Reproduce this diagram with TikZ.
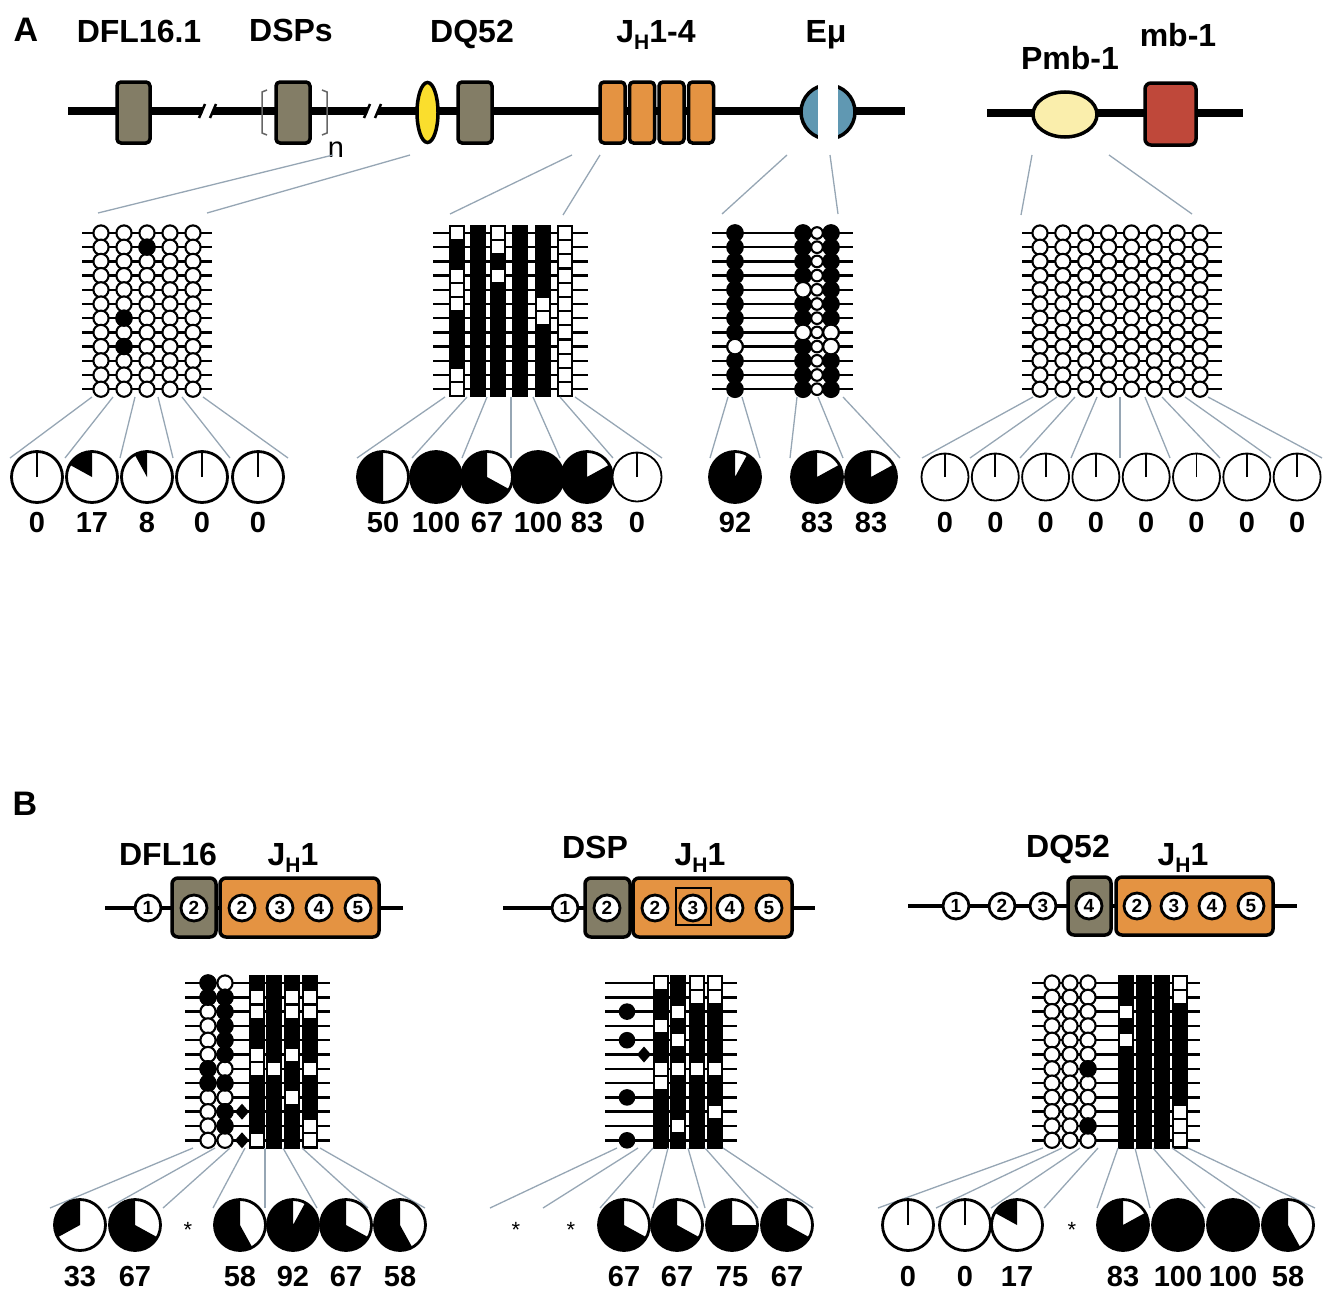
\documentclass[tikz,border=0pt]{standalone}
\usepackage{fontspec}
\setmainfont{Liberation Sans}
\definecolor{dgene}{RGB}{131,125,102}
\definecolor{jgene}{RGB}{228,147,66}
\definecolor{dqel}{RGB}{250,222,45}
\definecolor{emu}{RGB}{96,152,178}
\definecolor{pmb}{RGB}{250,238,172}
\definecolor{mbone}{RGB}{191,72,58}
\definecolor{fangray}{RGB}{150,166,180}

\tikzset{
  dna/.style={line width=8pt},
  thin dna/.style={line width=4pt},
  exon/.style={draw, line width=3.5pt, rounded corners=4pt},
  fan/.style={draw=fangray, line width=1.3pt},
  cpgline/.style={line width=2.5pt},
  lollipop/.style={draw, line width=2.1pt, fill=white},
  cell/.style={draw, line width=2.2pt},
  lbl/.style={font=\fontsize{32}{34}\selectfont\bfseries, inner sep=0pt, anchor=base},
  pct/.style={font=\fontsize{29}{30}\selectfont\bfseries, inner sep=0pt, anchor=base},
  star/.style={font=\fontsize{22}{22}\selectfont, inner sep=0pt, anchor=base},
  site/.style={circle, draw, line width=2.8pt, fill=white, minimum size=26pt, inner sep=0pt,
    font=\fontsize{19}{19}\selectfont\bfseries},
}

% pie of percent methylated: [line width]{x}{y}{percent}{radius}
\newcommand{\mpie}[5][2.8pt]{%
  \fill[white] (#2,#3) circle[radius=#5pt];
  \ifnum#4=100 \fill (#2,#3) circle[radius=#5pt];\else
  \ifnum#4>0 \fill (#2,#3) -- ++(90:#5pt) arc[start angle=90, delta angle=3.6*#4, radius=#5pt] -- cycle;\else
  \draw[line width=#1] (#2,#3) -- ++(90:#5pt);\fi\fi
  \draw[line width=#1] (#2,#3) circle[radius=#5pt];}
\newcommand{\JH}[1]{J\raisebox{-7pt}{\fontsize{21}{21}\selectfont H}#1}

\begin{document}
\begin{tikzpicture}[x=1pt,y=-1pt]
\useasboundingbox (0,0) rectangle (1327,1290);

% ---------------- panel A: locus
\node[lbl, font=\fontsize{34}{34}\selectfont\bfseries] (labA) at (26,42) {A};
\node[lbl] (tDFL) at (139,43) {DFL16.1};
\node[lbl] (tDSP) at (291,42) {DSPs};
\node[lbl] (tDQ) at (472,43) {DQ52};
\node[lbl] (tJH) at (656,43) {\JH{1-4}};
\node[lbl] (tEmu) at (826,43) {Eμ};
\node[lbl] (tPmb) at (1070,70) {Pmb-1};
\node[lbl] (tmb) at (1178,47) {mb-1};

\draw[dna] (68,111) -- (905,111);
% breaks
\fill[white] (200,121) -- (206,101) -- (216,101) -- (210,121) -- cycle;
\draw[line width=2.5pt] (199,118) -- (205,104);
\draw[line width=2.5pt] (210,118) -- (216,104);
\fill[white] (365,121) -- (371,101) -- (381,101) -- (375,121) -- cycle;
\draw[line width=2.5pt] (364,118) -- (370,104);
\draw[line width=2.5pt] (375,118) -- (381,104);

\draw[exon, fill=dgene] (117,82) rectangle (150,143);
\draw[exon, fill=dgene] (276,82) rectangle (310,143);
\draw[line width=1.5pt, draw=gray!80!black] (267,90) -- (262,92) -- (262,133) -- (267,135);
\draw[line width=1.5pt, draw=gray!80!black] (322,90) -- (327,92) -- (327,133) -- (322,135);
\node[font=\fontsize{29}{29}\selectfont, inner sep=0pt] (tn) at (336,150) {n};
\draw[line width=3.5pt, fill=dqel] (427.5,112.5) ellipse[x radius=10.5pt, y radius=30pt];
\draw[exon, fill=dgene] (458,82) rectangle (492,143);
\foreach \x in {600,629.5,659,688.5}
  \draw[exon, fill=jgene] (\x,82) rectangle ++(25,61);
\draw[line width=3.5pt, fill=emu] (828,112) circle[radius=27pt];
\fill[white] (818,80) rectangle (838,146);

\draw[dna] (987,113) -- (1243,113);
\draw[line width=3.5pt, fill=pmb] (1065,114.5) ellipse[x radius=32pt, y radius=22.5pt];
\draw[exon, rounded corners=6pt, fill=mbone] (1145,83) rectangle (1196,145);

% locus to grids
\draw[fan] (333,155) -- (98,213);
\draw[fan] (410,155) -- (207,213);
\draw[fan] (572,155) -- (450,214);
\draw[fan] (600,155) -- (563,215);
\draw[fan] (787,155) -- (722,214);
\draw[fan] (830,155) -- (838,214);
\draw[fan] (1032,155) -- (1021,215);
\draw[fan] (1109,155) -- (1192,214);

% grid DFL/DSP/DQ52
\foreach \i in {0,...,11}
  \draw[cpgline] (82,{233+14.2*\i}) -- (212,{233+14.2*\i});
\foreach \x in {101,124,147,170,193}
  \foreach \i in {0,...,11}
    \draw[lollipop] (\x,{233+14.2*\i}) circle[radius=7.6pt];
\foreach \x/\i in {147/1,124/6,124/8}
  \draw[lollipop, fill=black] (\x,{233+14.2*\i}) circle[radius=7.6pt];

% grid JH1-4
\foreach \i in {0,...,11}
  \draw[cpgline] (433,{233+14.2*\i}) -- (588,{233+14.2*\i});
\foreach \x in {457,478,498,520,543,565}
  \draw[cell, fill=black] (\x-7.3,225.9) rectangle (\x+7.3,396.3);
\foreach \x/\w in {457/{0,3,4,5,10,11}, 498/{0,1,3}, 543/{5,6}, 565/{0,1,2,3,4,5,6,7,8,9,10,11}}
  \foreach \i in \w
    \draw[cell, fill=white] (\x-7.3,{225.9+14.2*\i}) rectangle (\x+7.3,{240.1+14.2*\i});

% grid Emu
\foreach \i in {0,...,11}
  \draw[cpgline] (712,{233+14.2*\i}) -- (853,{233+14.2*\i});
\foreach \x/\w in {735/{8}, 803/{4,7}, 831/{7,8}} {
  \foreach \i in {0,...,11}
    \draw[lollipop, fill=black] (\x,{233+14.2*\i}) circle[radius=7.8pt];
  \foreach \i in \w
    \draw[lollipop] (\x,{233+14.2*\i}) circle[radius=7.8pt];
}
\foreach \i in {0,...,11}
  \draw[lollipop] (817,{233+14.2*\i}) circle[radius=5.8pt];

% grid Pmb-1
\foreach \i in {0,...,11}
  \draw[cpgline] (1022,{233+14.2*\i}) -- (1222,{233+14.2*\i});
\foreach \k in {0,...,7}
  \foreach \i in {0,...,11}
    \draw[lollipop] ({1040+22.86*\k},{233+14.2*\i}) circle[radius=7.6pt];

% grids to pies
\foreach \a/\b in {92/10,113/65,135/120,158/173,182/230,203/288}
  \draw[fan] (\a,397) -- (\b,458);
\foreach \a/\b in {445/357,467/412,487/462,511/511,533/560,560/613,575/662}
  \draw[fan] (\a,397) -- (\b,458);
\foreach \a/\b in {728/710,742/760,797/790,818/843,843/900}
  \draw[fan] (\a,397) -- (\b,458);
\foreach \a/\b in {1033/922,1057/970,1075/1020,1097/1071,1120/1120,1145/1170,1162/1220,1185/1271,1208/1322}
  \draw[fan] (\a,397) -- (\b,458);

% pies A
\foreach \x/\p in {37/0,92/17,147/8,202/0,258/0} {
  \mpie{\x}{477}{\p}{25.5}
  \node[pct] (na\x) at (\x,532) {\p};
}
\foreach \x/\p in {383/50,436/100,487/67,538/100,587/83} {
  \mpie{\x}{477}{\p}{25.5}
  \node[pct] (na\x) at (\x,532) {\p};
}
\mpie[1.8pt]{637}{477}{0}{24.5}
\node[pct] (na637) at (637,532) {0};
\foreach \x/\p in {735/92,817/83,871/83} {
  \mpie{\x}{477}{\p}{25.5}
  \node[pct] (na\x) at (\x,532) {\p};
}
\foreach \k in {0,...,7} {
  \mpie[1.8pt]{945+50.3*\k}{477}{0}{23.5}
  \node[pct] (nz\k) at ({945+50.3*\k},532) {0};
}

% ---------------- panel B
\node[lbl, font=\fontsize{34}{34}\selectfont\bfseries] (labB) at (25,815) {B};

% DFL16 - JH1
\node[lbl] (tDFLb) at (168,865) {DFL16};
\node[lbl] (tJb1) at (293,865) {\JH{1}};
\draw[thin dna] (105,908) -- (403,908);
\draw[exon, rounded corners=6pt, fill=dgene] (172,878) rectangle (216,937);
\draw[exon, rounded corners=6pt, fill=jgene] (220,878) rectangle (379,937);
\node[site] (a1) at (148,908) {1};
\node[site] (a2) at (194,908) {2};
\foreach \x/\n in {242/2,280/3,319/4,358/5}
  \node[site] (aj\n) at (\x,908) {\n};

% DSP - JH1
\node[lbl] (tDSPb) at (595,858) {DSP};
\node[lbl] (tJb2) at (700,865) {\JH{1}};
\draw[thin dna] (503,908) -- (815,908);
\draw[exon, rounded corners=6pt, fill=dgene] (585,878) rectangle (630,937);
\draw[exon, rounded corners=6pt, fill=jgene] (633,878) rectangle (792,937);
\node[site] (b1) at (565,908) {1};
\node[site] (b2) at (607,908) {2};
\foreach \x/\n in {655/2,693/3,730/4,769/5}
  \node[site] (bj\n) at (\x,908) {\n};
\draw[line width=1.8pt] (676,888) rectangle (711,925);

% DQ52 - JH1
\node[lbl] (tDQb) at (1068,857) {DQ52};
\node[lbl] (tJb3) at (1183,865) {\JH{1}};
\draw[thin dna] (908,906) -- (1297,906);
\draw[exon, rounded corners=6pt, fill=dgene] (1068,877) rectangle (1111,935);
\draw[exon, rounded corners=6pt, fill=jgene] (1116,877) rectangle (1273,935);
\foreach \x/\n in {956/1,1002/2,1043/3,1089/4}
  \node[site] (c\n) at (\x,906) {\n};
\foreach \x/\n in {1137/2,1174/3,1212/4,1251/5}
  \node[site] (cj\n) at (\x,906) {\n};

% grid B1
\foreach \i in {0,...,11}
  \draw[cpgline] (185,{983+14.3*\i}) -- (330,{983+14.3*\i});
\foreach \x in {208,225}
  \foreach \i in {0,...,11}
    \draw[lollipop] (\x,{983+14.3*\i}) circle[radius=7.6pt];
\foreach \x/\w in {208/{0,1,6,7}, 225/{1,2,3,4,5,7,9,10}}
  \foreach \i in \w
    \draw[lollipop, fill=black] (\x,{983+14.3*\i}) circle[radius=7.6pt];
\foreach \i in {9,11}
  \fill (242,{983+14.3*\i}) +(0,-8) -- +(7,0) -- +(0,8) -- +(-7,0) -- cycle;
\foreach \x in {257,274,292,310}
  \draw[cell, fill=black] (\x-7.3,975.9) rectangle (\x+7.3,1147.5);
\foreach \x/\w in {257/{1,2,5,6,11}, 274/{6}, 292/{1,2,5,8}, 310/{1,2,6,10,11}}
  \foreach \i in \w
    \draw[cell, fill=white] (\x-7.3,{975.9+14.3*\i}) rectangle (\x+7.3,{990.2+14.3*\i});

% grid B2
\foreach \i in {0,...,11}
  \draw[cpgline] (605,{983+14.3*\i}) -- (737,{983+14.3*\i});
\foreach \i in {2,4,8,11}
  \fill (627,{983+14.3*\i}) circle[radius=8.3pt];
\fill (644,{983+14.3*5}) +(0,-8) -- +(7,0) -- +(0,8) -- +(-7,0) -- cycle;
\foreach \x in {661,678,697,715}
  \draw[cell, fill=black] (\x-7.3,975.9) rectangle (\x+7.3,1147.5);
\foreach \x/\w in {661/{0,3,6,7}, 678/{2,4,6,10}, 697/{0,1,6}, 715/{0,1,6,9}}
  \foreach \i in \w
    \draw[cell, fill=white] (\x-7.3,{975.9+14.3*\i}) rectangle (\x+7.3,{990.2+14.3*\i});

% grid B3
\foreach \i in {0,...,11}
  \draw[cpgline] (1032,{983+14.3*\i}) -- (1200,{983+14.3*\i});
\foreach \x in {1052,1070,1088}
  \foreach \i in {0,...,11}
    \draw[lollipop] (\x,{983+14.3*\i}) circle[radius=7.6pt];
\foreach \i in {6,10}
  \draw[lollipop, fill=black] (1088,{983+14.3*\i}) circle[radius=7.6pt];
\foreach \x in {1126,1144,1162,1180}
  \draw[cell, fill=black] (\x-7.3,975.9) rectangle (\x+7.3,1147.5);
\foreach \x/\w in {1126/{2,4}, 1180/{0,1,9,10,11}}
  \foreach \i in \w
    \draw[cell, fill=white] (\x-7.3,{975.9+14.3*\i}) rectangle (\x+7.3,{990.2+14.3*\i});

% grids to pies
\foreach \a/\b in {193/50,215/108,230/163,245/213,265/265,283/317,302/368,320/425}
  \draw[fan] (\a,1148) -- (\b,1208);
\foreach \a/\b in {617/490,638/543,653/600,668/653,688/705,705/758,723/813}
  \draw[fan] (\a,1148) -- (\b,1208);
\foreach \a/\b in {1043/878,1062/936,1080/991,1098/1044,1118/1097,1135/1150,1153/1205,1172/1260,1188/1315}
  \draw[fan] (\a,1148) -- (\b,1208);

% pies B
\foreach \x/\p in {80/33,135/67,240/58,293/92,346/67,400/58,624/67,677/67,732/75,787/67,
                   908/0,965/0,1017/17,1123/83,1178/100,1233/100,1288/58} {
  \mpie{\x}{1225}{\p}{25.5}
  \node[pct] (nb\x) at (\x,1286) {\p};
}
\foreach \x in {188,516,571,1072}
  \node[star] (st\x) at (\x,1237) {*};
\end{tikzpicture}
\end{document}
